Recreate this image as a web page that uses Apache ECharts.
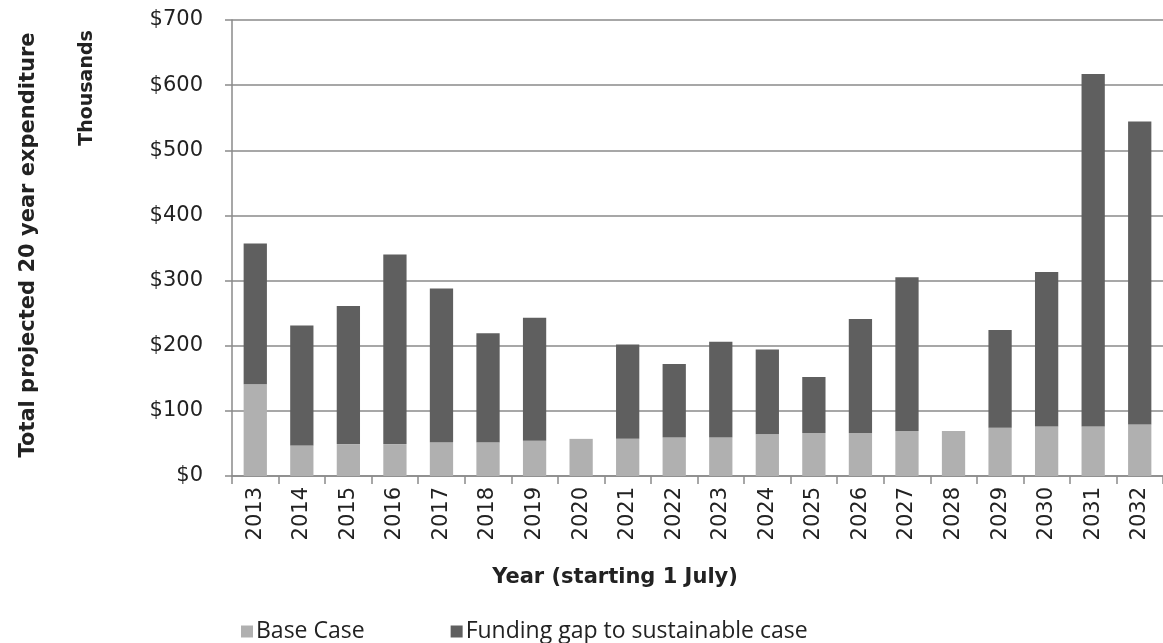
<!DOCTYPE html>
<html>
<head>
<meta charset="utf-8">
<script src="https://cdn.jsdelivr.net/npm/echarts@6/dist/echarts.min.js"></script>
<style>
  html, body { margin: 0; padding: 0; background: #fff; }
  #chart { width: 1163px; height: 643px; }
</style>
</head>
<body>
<div id="chart"></div>
<script>
// Years (financial year starting 1 July)
const years = ['2013','2014','2015','2016','2017','2018','2019','2020','2021','2022',
               '2023','2024','2025','2026','2027','2028','2029','2030','2031','2032'];

// Base case expenditure, $ thousands
const baseCase = [141, 47, 49, 49, 52, 52, 54, 57, 57, 59,
                  59, 64, 66, 66, 69, 69, 74, 76, 76, 79];

// Additional spend needed to reach the sustainable case, $ thousands
const fundingGap = [216, 184, 212, 291, 236, 167, 189, 0, 145, 113,
                    147, 130, 86, 175, 236, 0, 150, 237, 541, 465];

// Value axis ticks
const yTicks = [0, 100, 200, 300, 400, 500, 600, 700];

const chart = echarts.init(document.getElementById('chart'), null, { renderer: 'canvas' });

const axisGray = '#8a8a8a';
const textColor = '#222';
const fontFam = '"DejaVu Sans", Verdana, sans-serif';
const legendFam = '"Open Sans", "DejaVu Sans", sans-serif';

chart.setOption({
  animation: false,
  backgroundColor: '#fff',
  grid: { left: 232, right: 0, top: 20, bottom: 167, containLabel: false },
  legend: {
    left: 236, top: 615,
    icon: 'rect', itemWidth: 12, itemHeight: 12, itemGap: 86,
    textStyle: { fontFamily: legendFam, fontSize: 23, color: textColor, padding: [0, 0, 0, -2] },
    data: ['Base Case', 'Funding gap to sustainable case']
  },
  graphic: [
    {
      type: 'text',
      rotation: Math.PI / 2,
      x: 29, y: 245,
      style: {
        text: 'Total projected 20 year expenditure',
        font: 'bold 21px ' + fontFam,
        fill: textColor, textAlign: 'center', textVerticalAlign: 'middle'
      }
    },
    {
      type: 'text',
      rotation: Math.PI / 2,
      x: 87, y: 88,
      style: {
        text: 'Thousands',
        font: 'bold 19px ' + fontFam,
        fill: textColor, textAlign: 'center', textVerticalAlign: 'middle'
      }
    },
    {
      type: 'text',
      x: 615, y: 578,
      style: {
        text: 'Year (starting 1 July)',
        font: 'bold 21px ' + fontFam,
        fill: textColor, textAlign: 'center', textVerticalAlign: 'middle'
      }
    }
  ],
  xAxis: {
    type: 'category',
    data: years,
    axisLine: { show: true, lineStyle: { color: axisGray, width: 1.5 } },
    axisTick: { show: true, length: 8, lineStyle: { color: axisGray, width: 1.5 } },
    axisLabel: {
      rotate: 90, margin: 11, interval: 0,
      fontFamily: fontFam, fontSize: 21, color: textColor
    }
  },
  yAxis: {
    type: 'value',
    min: 0, max: 700, interval: 100,
    axisLine: { show: true, lineStyle: { color: axisGray, width: 1.5 } },
    axisTick: { show: true, inside: false, length: 7, lineStyle: { color: axisGray, width: 1.5 } },
    splitLine: { show: true, lineStyle: { color: axisGray, width: 1.5 } },
    axisLabel: {
      margin: 29,
      fontFamily: fontFam, fontSize: 21, color: textColor,
      formatter: v => yTicks.includes(v) ? '$' + v : ''
    }
  },
  series: [
    {
      name: 'Base Case', type: 'bar', stack: 'total',
      data: baseCase, barWidth: '50%',
      itemStyle: { color: '#b0b0b0' }
    },
    {
      name: 'Funding gap to sustainable case', type: 'bar', stack: 'total',
      data: fundingGap, barWidth: '50%',
      itemStyle: { color: '#5f5f5f' }
    }
  ]
});
</script>
</body>
</html>
